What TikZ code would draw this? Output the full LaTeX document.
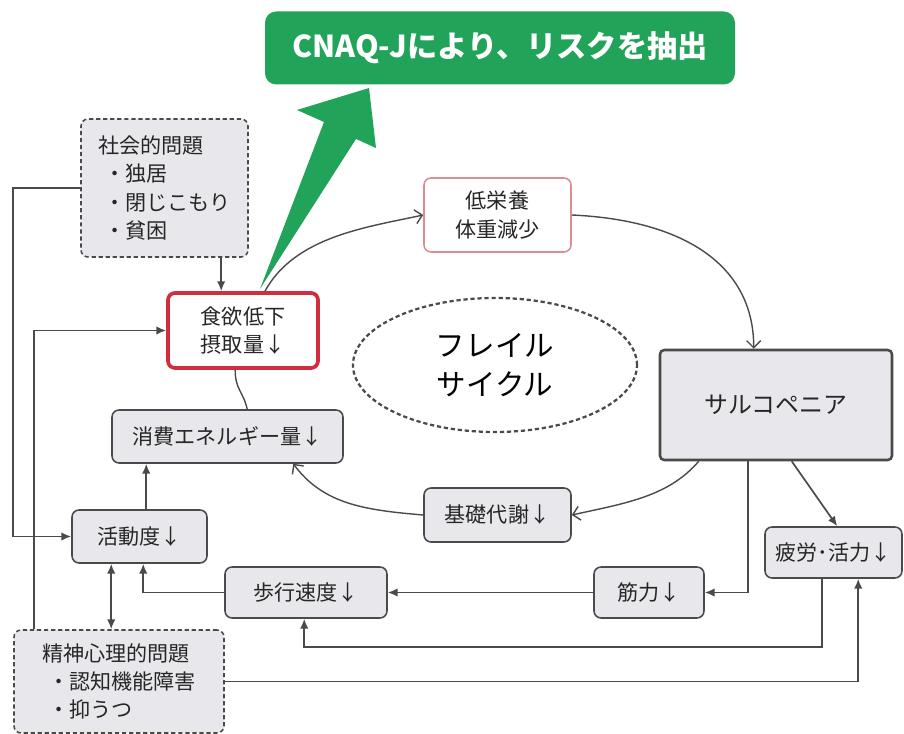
\documentclass[tikz,border=0pt]{standalone}
\usepackage{fontspec}
\setmainfont{Noto Sans CJK JP}
\usepackage{tikz}
\usetikzlibrary{positioning, shapes.geometric, arrows.meta, calc}
\usepackage{xcolor}
\definecolor{cnaqgreen}{HTML}{22A35A}
\definecolor{boxfill}{HTML}{E8E8EC}
\definecolor{boxline}{HTML}{4A4A4A}
\definecolor{riskred}{HTML}{D22D3C}
\definecolor{nutred}{HTML}{E08A92}
\tikzset{
  % size given in pixels of the original layout
  boxsize/.style 2 args={minimum width=#1*0.025cm, minimum height=#2*0.025cm},
  % grey rounded box = factor of the cycle
  factor/.style={rectangle, rounded corners=5pt, fill=boxfill, draw=boxline,
                 line width=1.1pt, inner sep=0pt, align=center,
                 text=black!85, font=\fontsize{15}{20}\selectfont},
  % dashed box = background problem
  problem/.style={factor, densely dashed, align=left},
  % straight connector with filled head
  conn/.style={-{Latex[length=7pt,width=6pt]}, draw=boxline, line width=1.2pt},
  % curved arrow of the frailty cycle
  cyc/.style={-{Straight Barb[length=5pt,width=10pt]}, draw=boxline, line width=1pt},
}

\begin{document}
\begin{tikzpicture}[x=0.025cm, y=-0.025cm]
  \useasboundingbox (0,0) rectangle (904,734);
  % headline
  \node[fill=cnaqgreen, rounded corners=8pt, text=white, inner sep=0pt,
        boxsize={470}{73}, font=\fontsize{21.5}{26}\selectfont\bfseries]
    (title) at (500,48) {CNAQ-Jにより、リスクを抽出};
  \fill[cnaqgreen] (260,289) -- (324,122) -- (297,110) -- (369,88)
    -- (376,148) -- (356,139) -- cycle;
  % cycle
  \node[ellipse, draw=boxline, densely dashed, line width=1.6pt, align=center,
        boxsize={284}{134}, font=\fontsize{21}{28}\selectfont]
    (frailty) at (495,365) {フレイル\\サイクル};
  \node[problem, boxsize={167}{138}] (social) at (164.5,188)
    {社会的問題\\\hspace{0.3em}・独居\\\hspace{0.3em}・閉じこもり\\\hspace{0.3em}・貧困};
  \node[factor, fill=white, draw=riskred, line width=2.6pt, boxsize={150}{75}]
    (appetite) at (243,330.5) {食欲低下\\摂取量↓};
  \node[factor, fill=white, draw=nutred, boxsize={147}{74}]
    (lownut) at (497.5,215) {低栄養\\体重減少};
  \node[factor, line width=1.8pt, rounded corners=3pt, boxsize={232}{110},
        font=\fontsize{17}{20}\selectfont] (sarco) at (776,405) {サルコペニア};
  \node[factor, boxsize={231}{53}] (energy) at (227.5,436.5) {消費エネルギー量↓};
  \node[factor, boxsize={147}{54}] (basal) at (497.5,515) {基礎代謝↓};
  \node[factor, boxsize={135}{53}] (act) at (139.5,536.5) {活動度↓};
  \node[factor, boxsize={162}{51}] (walk) at (306,592.5) {歩行速度↓};
  \node[factor, boxsize={110}{51}] (muscle) at (649,592.5) {筋力↓};
  \node[factor, boxsize={137}{51}] (fatigue) at (833.5,552.5) {疲労･活力↓};
  \node[problem, boxsize={210}{103}] (mental) at (119,681.5)
    {精神心理的問題\\\hspace{0.3em}・認知機能障害\\\hspace{0.3em}・抑うつ};

  % cycle arrows
  \draw[cyc] ($(appetite.north)+(22,0)$) .. controls +(30,-55) and +(-55,12) .. (lownut.west);
  \draw[cyc] (lownut.east) .. controls +(110,5) and +(0,-85) .. ($(sarco.north west)+(95,0)$);
  \draw[cyc] ($(sarco.south west)+(40,0)$) .. controls +(-30,35) and +(55,-12) .. (basal.east);
  \draw[cyc] (basal.west) .. controls +(-60,-5) and +(30,40) .. ($(energy.south west)+(182,0)$);
  \draw[boxline, line width=1pt] ($(appetite.south west)+(69,0)$)
    .. controls +(0,20) and +(-4,-18) .. ($(energy.north west)+(136,0)$);

  % links
  \coordinate (actup) at ($(act.north west)+(75,0)$);
  \coordinate (actdn) at ($(act.south west)+(40,0)$);
  \coordinate (socdn) at ($(appetite.north west)+(55,0)$);
  \draw[conn] (socdn |- social.south) -- (socdn);
  \draw[conn] (social.west) -- ++(-67,0) |- (act.west);
  \draw[conn] ($(mental.north west)+(21,0)$) |- (appetite.west);
  \draw[conn] (actup) -- (actup |- energy.south);
  \draw[conn, {Latex[length=7pt,width=6pt]}-{Latex[length=7pt,width=6pt]}]
    (actdn) -- (actdn |- mental.north);
  \draw[conn] (walk.west) -| ($(act.south west)+(72,0)$);
  \draw[conn] (muscle.west) -- (walk.east);
  \draw[conn] ($(sarco.south west)+(89,0)$) |- (muscle.east);
  \draw[conn] ($(sarco.south west)+(133,0)$) -- ($(fatigue.north west)+(73,0)$);
  \draw[conn] ($(fatigue.south west)+(58,0)$) -- ++(0,68) -| ($(walk.south west)+(80,0)$);
  \draw[conn] (mental.east) -| ($(fatigue.south west)+(94,0)$);
\end{tikzpicture}
\end{document}
